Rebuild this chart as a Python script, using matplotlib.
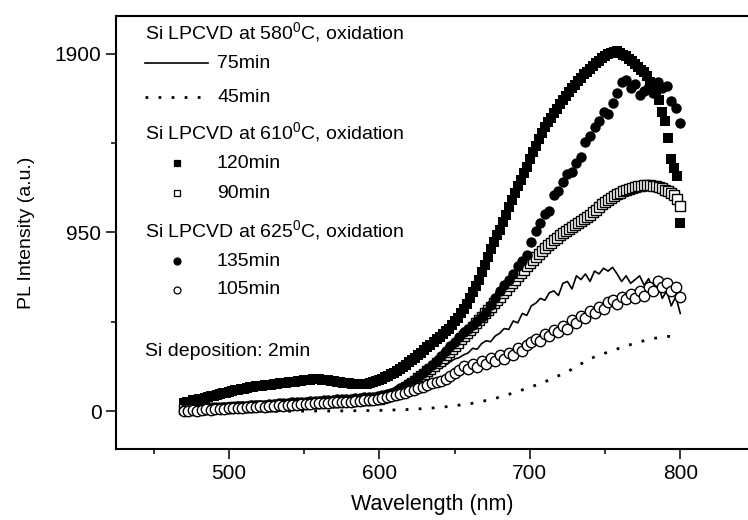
import numpy as np
import matplotlib
matplotlib.use("Agg")
import matplotlib.pyplot as plt
from matplotlib.lines import Line2D

plt.rcParams["font.family"] = ["Liberation Sans", "DejaVu Sans"]
plt.rcParams["mathtext.fontset"] = "custom"
plt.rcParams["mathtext.rm"] = "Liberation Sans"
plt.rcParams["mathtext.default"] = "regular"

# wavelength grids (nm)
wl2 = np.arange(470, 801, 2)   # square series, 2 nm steps
wl3 = np.arange(470, 801, 3)   # circle / line series, 3 nm steps

# Si LPCVD 610 C, 120 min (filled squares), one row per 10 nm
sq_120 = [45, 50, 52, 58, 62,
          66, 68, 72, 76, 80,
          84, 88, 92, 96, 100,
          104, 108, 112, 115, 118,
          121, 124, 127, 130, 132,
          134, 136, 138, 140, 142,
          144, 146, 148, 150, 152,
          154, 156, 158, 160, 162,
          164, 166, 168, 170, 170,
          170, 168, 166, 164, 162,
          160, 158, 155, 152, 150,
          148, 146, 144, 143, 143,
          144, 146, 150, 155, 160,
          166, 172, 180, 188, 196,
          204, 214, 224, 236, 248,
          260, 272, 285, 298, 312,
          326, 340, 354, 368, 382,
          396, 410, 425, 440, 458,
          478, 498, 520, 545, 572,
          600, 632, 665, 700, 738,
          778, 820, 862, 900, 935,
          965, 1005, 1045, 1085, 1120,
          1160, 1195, 1230, 1265, 1300,
          1340, 1375, 1410, 1445, 1478,
          1510, 1535, 1560, 1585, 1608,
          1632, 1655, 1675, 1695, 1715,
          1735, 1755, 1772, 1790, 1805,
          1820, 1835, 1850, 1862, 1875,
          1888, 1898, 1905, 1910, 1912,
          1905, 1895, 1885, 1872, 1860,
          1845, 1830, 1815, 1800, 1780,
          1750, 1725, 1695, 1655, 1590,
          1540, 1450, 1340, 1290, 1250,
          1000]

# Si LPCVD 610 C, 90 min (open squares)
sq_90 = [10, 11, 12, 11, 13,
         14, 14, 15, 16, 16,
         17, 18, 18, 19, 20,
         20, 21, 22, 22, 23,
         24, 24, 25, 26, 26,
         27, 28, 28, 29, 30,
         31, 32, 33, 34, 35,
         36, 37, 38, 39, 40,
         41, 42, 43, 44, 45,
         46, 47, 48, 49, 50,
         51, 52, 53, 54, 55,
         56, 57, 58, 59, 60,
         61, 62, 63, 64, 65,
         67, 70, 74, 79, 85,
         92, 100, 108, 117, 127,
         138, 150, 162, 175, 188,
         200, 213, 226, 240, 255,
         270, 285, 300, 316, 332,
         348, 365, 382, 398, 415,
         432, 450, 467, 485, 502,
         520, 538, 556, 574, 592,
         610, 628, 646, 664, 682,
         700, 718, 735, 752, 770,
         788, 805, 822, 838, 853,
         868, 882, 896, 910, 922,
         935, 947, 958, 970, 980,
         990, 1000, 1010, 1020, 1032,
         1045, 1058, 1072, 1086, 1100,
         1112, 1124, 1135, 1145, 1154,
         1162, 1170, 1177, 1183, 1188,
         1192, 1195, 1198, 1200, 1201,
         1200, 1198, 1195, 1190, 1185,
         1178, 1170, 1160, 1148, 1130,
         1090]

# Si LPCVD 625 C, 135 min (filled circles)
ci_135 = [5, 8, 10, 12, 10, 15, 18, 16, 20, 22, 25, 24, 28, 30, 29, 32, 35, 33, 36, 38, 40,
          42, 44, 45, 47, 48, 50, 52, 53, 55, 56, 58, 60, 61, 63, 64, 66, 68, 70, 72, 74, 76, 78, 80,
          85, 92, 100, 110, 122, 135, 150, 168, 185, 205, 225, 248, 270, 295, 320, 345, 370,
          395, 420, 440, 460, 480, 500, 530, 565, 600, 640, 670, 700, 730, 770, 800, 830, 900,
          960, 1000, 1050, 1065, 1150, 1170, 1220, 1260, 1270, 1320, 1350, 1430, 1460, 1510, 1540, 1590, 1580,
          1640, 1690, 1750, 1760, 1720, 1740, 1680, 1700, 1730, 1690, 1750, 1720, 1730, 1650, 1610, 1530]

# Si LPCVD 625 C, 105 min (open circles)
ci_105 = [0, 3, 5, 4, 8, 10, 9, 12, 14, 13, 16, 18, 17, 20, 22, 21, 24, 26, 25, 28, 30,
          32, 31, 34, 36, 35, 38, 40, 39, 42, 44, 43, 46, 48, 47, 50, 52, 51, 54, 56, 58, 60, 62, 65,
          70, 75, 80, 85, 92, 100, 108, 115, 122, 130, 138, 148, 155, 160, 170, 190, 205,
          218, 240, 225, 250, 235, 270, 250, 285, 265, 300, 280, 310, 300, 335, 320, 355, 370,
          385, 375, 410, 400, 430, 420, 455, 440, 485, 470, 505, 495, 535, 520, 555, 545, 580,
          590, 570, 610, 595, 625, 600, 640, 615, 660, 640, 695, 660, 680, 640, 660, 605]

# Si LPCVD 580 C, 75 min (solid line)
ln_75 = [20, 25, 22, 28, 30, 27, 32, 35, 30, 36, 38, 35, 40, 42, 38, 44, 46, 42, 48, 50, 47,
         52, 50, 55, 57, 53, 58, 60, 56, 62, 64, 60, 66, 68, 64, 70, 72, 68, 75, 78, 74, 80, 84, 88,
         92, 98, 105, 112, 120, 130, 140, 150, 162, 175, 188, 200, 215, 230, 245, 262, 278,
         285, 300, 310, 335, 330, 360, 375, 370, 400, 415, 440, 435, 480, 470, 520, 510, 560,
         575, 600, 590, 630, 640, 615, 680, 690, 650, 720, 700, 730, 690, 745, 730, 760, 745,
         765, 730, 690, 720, 680, 700, 720, 670, 705, 640, 680, 600, 640, 560, 610, 520]

# Si LPCVD 580 C, 45 min (dotted line)
wl_45 = [470, 520, 570, 600, 620, 640, 660, 675, 690, 708, 725, 740, 752, 765, 780, 792, 800]
ln_45 = [0, 0, 2, 5, 10, 20, 40, 64, 100, 150, 210, 280, 315, 350, 385, 398, 398]

W, H = 748, 520
fig = plt.figure(figsize=(W / 100, H / 100), dpi=100)
ax = fig.add_axes([116 / W, 71 / H, (W - 116) / W, (449 - 16) / H])

ax.plot(wl3, ln_75, color="black", lw=1.2, zorder=3)
ax.plot(wl_45, ln_45, color="black", lw=2, linestyle=(0, (1, 3.7)), zorder=3)
ax.plot(wl2, sq_120, "s", color="black", ms=7, mew=0, zorder=3)
ax.plot(wl2, sq_90, "s", mfc="white", mec="black", ms=7, mew=1.0, zorder=3)
ax.plot(wl3, ci_135, "o", color="black", ms=7.5, mew=0, zorder=3)
ax.plot(wl3, ci_105, "o", mfc="white", mec="black", ms=7.5, mew=1.0, zorder=3)

ax.set_xlim(425, 845)
ax.set_ylim(-200, 2100)
ax.set_xticks([500, 600, 700, 800])
ax.set_xticks([450, 550, 650, 750], minor=True)
ax.set_yticks([0, 950, 1900])
ax.set_yticks([475, 1425], minor=True)
ax.tick_params(which="major", direction="out", length=7, width=1.1, labelsize=15)
ax.tick_params(which="minor", direction="out", length=3.5, width=1.1)
ax.spines["right"].set_visible(False)
for s in ("left", "top", "bottom"):
    ax.spines[s].set_linewidth(1.5)

ax.set_xlabel("Wavelength (nm)", fontsize=15.5, labelpad=8)
ax.set_ylabel("PL Intensity (a.u.)", fontsize=14, labelpad=14)


def fx(px):
    return px / W


def fy(py):
    return 1 - py / H


fs = 14
txt_x = 145
entry_x = 217
for label, py in [("Si LPCVD at 580$^0$C, oxidation", 32),
                  ("Si LPCVD at 610$^0$C, oxidation", 132),
                  ("Si LPCVD at 625$^0$C, oxidation", 230),
                  ("Si deposition: 2min", 352)]:
    fig.text(fx(txt_x), fy(py), label, fontsize=fs, va="center", ha="left")

fig.add_artist(Line2D([fx(145), fx(208)], [fy(63), fy(63)], color="black", lw=1.2))
fig.add_artist(Line2D([fx(145), fx(208)], [fy(97), fy(97)], color="black", lw=2,
                      linestyle=(0, (1, 3.7))))
fig.text(fx(entry_x), fy(63), "75min", fontsize=fs, va="center")
fig.text(fx(entry_x), fy(97), "45min", fontsize=fs, va="center")

markers = [("s", "black", 163, "120min"), ("s", "white", 193, "90min"),
           ("o", "black", 261, "135min"), ("o", "white", 290, "105min")]
for m, fc, py, label in markers:
    fig.add_artist(Line2D([fx(177)], [fy(py)], marker=m, mfc=fc, mec="black",
                          ms=5, mew=0.9, linestyle="none"))
    fig.text(fx(entry_x), fy(py), label, fontsize=fs, va="center")

fig.savefig("out.png", dpi=100)
